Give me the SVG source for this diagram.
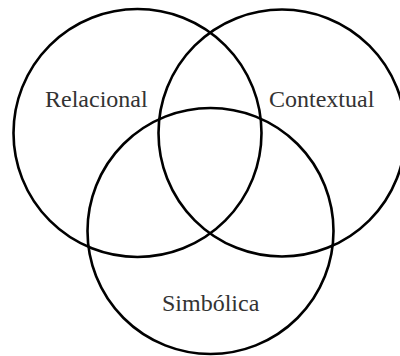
<svg xmlns="http://www.w3.org/2000/svg" width="400" height="356" viewBox="0 0 400 356">
<style>
.c{fill:none;stroke:#000;stroke-width:2.6}
.t{font-family:"Liberation Serif","Times New Roman",serif;font-size:24px;fill:#333}
</style>
<rect width="400" height="356" fill="#fff"/>
<g id="relacional"><circle class="c" cx="137.5" cy="133" r="124"/><text class="t" x="45" y="107">Relacional</text></g>
<g id="contextual"><circle class="c" cx="282" cy="133" r="123.5"/><text class="t" x="269" y="107">Contextual</text></g>
<g id="simbolica"><circle class="c" cx="210.5" cy="231" r="123"/><text class="t" x="162" y="311">Simbólica</text></g>
</svg>
